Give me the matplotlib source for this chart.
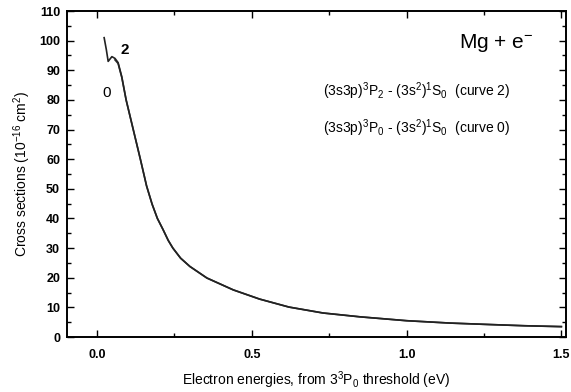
import matplotlib
matplotlib.use("Agg")
import matplotlib.pyplot as plt
from matplotlib.ticker import MultipleLocator

plt.rcParams['font.family'] = ['Liberation Sans', 'DejaVu Sans']
plt.rcParams['mathtext.default'] = 'regular'

# Data
energy_2 = [0.023, 0.030, 0.036, 0.048, 0.058, 0.068, 0.080, 0.094, 0.117, 0.140,
            0.160, 0.178, 0.195, 0.213, 0.230, 0.245, 0.270, 0.300, 0.355, 0.440,
            0.525, 0.620, 0.730, 0.850, 1.000, 1.140, 1.270, 1.380, 1.500]
sigma_2 = [101.0, 97.0, 93.0, 94.6, 94.0, 92.6, 87.8, 80.0, 70.0, 60.0,
           51.0, 44.8, 40.0, 36.3, 32.6, 30.0, 26.6, 23.8, 19.9, 15.9,
           12.8, 10.1, 8.1, 6.8, 5.5, 4.7, 4.2, 3.8, 3.5]
energy_0 = [0.058, 0.068, 0.080, 0.094, 0.117, 0.140, 0.160, 0.178, 0.195, 0.213,
            0.230, 0.245, 0.270, 0.300, 0.355, 0.440, 0.525, 0.620, 0.730, 0.850,
            1.000, 1.140, 1.270, 1.380, 1.500]
sigma_0 = [93.5, 92.3, 87.6, 80.0, 70.0, 60.0, 51.0, 44.8, 40.0, 36.3,
           32.6, 30.0, 26.6, 23.8, 19.9, 15.9, 12.8, 10.1, 8.1, 6.8,
           5.5, 4.7, 4.2, 3.8, 3.5]
x_ticks = [0.0, 0.5, 1.0, 1.5]
x_tick_labels = ["0.0", "0.5", "1.0", "1.5"]
y_ticks = list(range(0, 111, 10))

fig = plt.figure(figsize=(5.71, 3.92), dpi=100)
ax = fig.add_axes([67/571, 55/392, 499/571, 326/392])

ax.plot(energy_0, sigma_0, color='#333333', lw=1.2)
ax.plot(energy_2, sigma_2, color='#222222', lw=1.2)

ax.set_xlim(-0.097, 1.515)
ax.set_ylim(0, 110)
ax.set_xticks(x_ticks)
ax.set_xticklabels(x_tick_labels)
ax.set_yticks(y_ticks)
ax.xaxis.set_minor_locator(MultipleLocator(0.25))
ax.yaxis.set_minor_locator(MultipleLocator(5))
ax.tick_params(which='both', direction='in', top=True, right=True, labelsize=9, width=1.0)
ax.tick_params(which='major', length=5)
ax.tick_params(which='minor', length=3)
ax.tick_params(axis='x', which='major', pad=9)
ax.tick_params(axis='y', which='major', pad=5)
for lab in ax.get_xticklabels() + ax.get_yticklabels():
    lab.set_fontweight('bold')
for s in ax.spines.values():
    s.set_linewidth(1.4)

ax.set_xlabel("Electron energies, from 3$^3$P$_0$ threshold (eV)", fontsize=10, labelpad=6)
ax.set_ylabel("Cross sections (10$^{-16}$ cm$^2$)", fontsize=10, labelpad=4)

ax.text(0.09, 97, "2", fontsize=11, fontweight='bold', ha='center', va='center')
ax.text(0.032, 82.4, "0", fontsize=11, ha='center', va='center')
ax.text(1.41, 99.3, "Mg + e$^{-}$", fontsize=15, ha='right', va='center')
ax.text(0.73, 82.8, "(3s3p)$^3$P$_2$ - (3s$^2$)$^1$S$_0$  (curve 2)", fontsize=10, ha='left', va='center')
ax.text(0.73, 70.6, "(3s3p)$^3$P$_0$ - (3s$^2$)$^1$S$_0$  (curve 0)", fontsize=10, ha='left', va='center')

fig.savefig("out.png", dpi=100)
